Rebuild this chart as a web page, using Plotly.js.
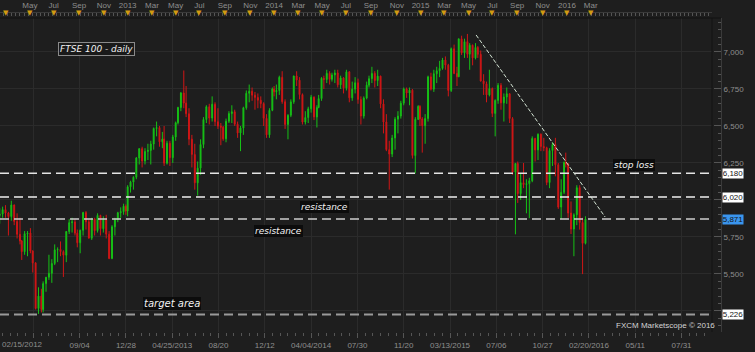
<!DOCTYPE html>
<html><head><meta charset="utf-8">
<script src="https://cdn.plot.ly/plotly-3.0.1.min.js"></script>
<style>html,body{margin:0;padding:0;background:#1e1e1e;overflow:hidden}#chart{width:755px;height:352px}</style>
</head><body><div id="chart"></div>
<script>
// ---- DATA (weekly OHLC of FTSE 100) ----
const firstWeek = '2012-02-13';
const wkOpen = [5895,5905,5935,5912,5888,5966,5855,5768,5723,5651,5772,5777,5655,5575,5267,5351,5260,5435,5478,5505,5571,5663,5666,5651,5627,5787,5847,5852,5776,5711,5795,5915,5853,5742,5871,5793,5896,5806,5868,5769,5605,5819,5867,5914,5921,5958,5926,
6089,6121,6154,6284,6347,6263,6328,6335,6378,6483,6489,6393,6412,6249,6384,6286,6426,6522,6625,6723,6655,6583,6411,6308,6116,6215,6375,6544,6630,6554,6647,6529,6499,6492,6413,6532,6584,6596,6512,6453,6487,6623,6721,6735,6708,6693,6674,6651,6552,6440,6606,6750,
6731,6740,6829,6664,6510,6572,6663,6838,6810,6712,6527,6557,6616,6695,6561,6625,6685,6822,6814,6856,6815,6845,6858,6778,6825,6757,6866,6690,6749,6792,6679,6567,6689,6776,6820,6855,6807,6837,6649,6527,6340,6310,6419,6546,6567,6654,6750,6723,6742,6300,6545,6633,
6548,6502,6550,6832,6749,6853,6873,6889,6946,6911,6740,7022,6855,6833,7089,6994,7070,6985,7046,6960,7031,6984,6804,6785,6710,6753,6585,6673,6775,6656,6696,6718,6550,6188,6247,6043,6117,6104,6110,6130,6416,6338,6444,6361,6353,6118,6334,6375,6238,5952,6052,6254,
6242,5912,5804,5900,6083,5848,5707];
const wkHigh = [5945,5955,5965,5920,5995,5970,5910,5880,5730,5790,5790,5810,5660,5580,5410,5400,5450,5480,5630,5600,5700,5680,5720,5660,5790,5870,5880,5870,5800,5800,5920,5925,5870,5880,5880,5910,5900,5890,5900,5790,5830,5880,5920,5950,5975,5970,6100,
6130,6160,6290,6350,6360,6350,6380,6400,6490,6530,6500,6460,6500,6400,6400,6440,6530,6630,6730,6875,6770,6620,6440,6380,6260,6410,6560,6640,6650,6700,6660,6620,6520,6500,6550,6600,6640,6610,6530,6500,6630,6740,6780,6760,6730,6720,6700,6660,6580,6620,6760,6770,
6780,6840,6870,6680,6580,6680,6840,6870,6830,6720,6600,6630,6710,6700,6640,6710,6830,6840,6880,6870,6860,6880,6880,6840,6830,6880,6870,6800,6830,6820,6700,6700,6800,6840,6900,6870,6880,6840,6680,6580,6400,6440,6560,6600,6670,6760,6760,6760,6750,6560,6640,6640,
6560,6580,6840,6860,6880,6900,6940,6960,6970,6920,7030,7050,6900,7090,7110,7090,7122,7060,7050,7060,7040,7010,6850,6800,6880,6760,6680,6790,6790,6720,6760,6720,6560,6250,6260,6180,6250,6140,6150,6430,6420,6450,6450,6420,6360,6350,6390,6420,6250,6140,6260,6320,
6250,5990,5910,6100,6100,5880,5890];
const wkLow = [5840,5880,5880,5760,5860,5830,5740,5700,5595,5630,5620,5640,5510,5260,5230,5240,5240,5380,5460,5440,5560,5580,5620,5480,5580,5770,5780,5760,5680,5640,5760,5800,5740,5730,5760,5780,5760,5780,5740,5600,5600,5760,5850,5880,5900,5900,5890,
6050,6070,6140,6240,6220,6240,6270,6240,6340,6430,6360,6350,6230,6240,6230,6250,6400,6510,6600,6620,6560,6370,6220,6070,6030,6170,6350,6520,6510,6530,6500,6480,6370,6400,6390,6520,6520,6500,6420,6330,6440,6610,6660,6670,6610,6620,6620,6500,6420,6420,6600,6700,
6680,6710,6650,6480,6410,6560,6650,6770,6680,6510,6510,6520,6590,6540,6490,6620,6670,6750,6790,6780,6800,6790,6760,6750,6720,6740,6660,6670,6720,6650,6510,6550,6680,6760,6790,6760,6770,6620,6450,6330,6070,6290,6340,6450,6550,6640,6690,6640,6280,6180,6540,6500,
6320,6380,6530,6740,6730,6790,6830,6880,6880,6700,6730,6850,6770,6830,6980,6960,6960,6880,6910,6950,6960,6800,6710,6660,6700,6560,6430,6650,6610,6530,6650,6520,6170,5768,5980,6000,6080,5910,5877,6120,6260,6270,6330,6330,6100,6080,6230,6160,5940,5872,6040,6220,
5880,5770,5620,5830,5800,5499,5700];
const wkClose = [5905,5935,5912,5888,5966,5855,5768,5723,5651,5772,5777,5655,5575,5267,5351,5260,5435,5478,5505,5571,5663,5666,5651,5627,5787,5847,5852,5776,5711,5795,5915,5853,5742,5871,5793,5896,5806,5868,5769,5605,5819,5867,5914,5921,5958,5926,6089,
6121,6154,6284,6347,6263,6328,6335,6378,6483,6489,6393,6412,6249,6384,6286,6426,6522,6625,6723,6655,6583,6411,6308,6116,6215,6375,6544,6630,6554,6647,6529,6499,6492,6413,6532,6584,6596,6512,6453,6487,6623,6721,6735,6708,6693,6674,6651,6552,6440,6606,6750,6731,
6740,6829,6664,6510,6572,6663,6838,6810,6712,6527,6557,6616,6695,6561,6625,6685,6822,6814,6856,6815,6845,6858,6778,6825,6757,6866,6690,6749,6792,6679,6567,6689,6776,6820,6855,6807,6837,6649,6527,6340,6310,6419,6546,6567,6654,6750,6723,6742,6300,6545,6633,6548,
6502,6550,6832,6749,6853,6873,6889,6946,6911,6740,7022,6855,6833,7089,6994,7070,6985,7046,6960,7031,6984,6804,6785,6710,6753,6585,6673,6775,6656,6696,6718,6550,6188,6247,6043,6117,6104,6110,6130,6416,6338,6444,6361,6353,6118,6334,6375,6238,5952,6052,6254,6242,
5912,5804,5900,6083,5848,5707,5871];

const levelValues = [6180, 6020, 5871, 5226];
const levelLabels = ['6,180', '6,020', '5,871', '5,226'];
const trendDates  = ['2015-05-21', '2016-04-07'];
const trendValues = [7115, 5885];

const monthStarts = ['2012-03-01','2012-05-01','2012-07-01','2012-09-01','2012-11-01','2013-01-01','2013-03-01','2013-05-01','2013-07-01','2013-09-01','2013-11-01','2014-01-01','2014-03-01','2014-05-01','2014-07-01','2014-09-01','2014-11-01','2015-01-01','2015-03-01','2015-05-01','2015-07-01','2015-09-01','2015-11-01','2016-01-01','2016-03-01'];
const monthLabels = ['','May','Jul','Sep','Nov','2013','Mar','May','Jul','Sep','Nov','2014','Mar','May','Jul','Sep','Nov','2015','Mar','May','Jul','Sep','Nov','2016','Mar'];
const bottomTickLabels = ['','09/04','12/28','04/25/2013','08/20','12/12','04/04/2014','07/30','11/20','03/13/2015','07/06','10/27','02/20/2016','05/11','07/31'];
const yTicks = [5250,5500,5750,6000,6250,6500,6750,7000];
// 5,250 and 6,000 are covered by the price boxes in the reference
const yTickText = ['','5,500','5,750','','6,250','6,500','6,750','7,000'];

const ukHolidays = ['2012-04-06','2012-04-09','2012-05-07','2012-06-04','2012-06-05','2012-08-27','2012-12-25','2012-12-26',
'2013-01-01','2013-03-29','2013-04-01','2013-05-06','2013-05-27','2013-08-26','2013-12-25','2013-12-26',
'2014-01-01','2014-04-18','2014-04-21','2014-05-05','2014-05-26','2014-08-25','2014-12-25','2014-12-26',
'2015-01-01','2015-04-03','2015-04-06','2015-05-04','2015-05-25','2015-08-31','2015-12-25','2015-12-28',
'2016-01-01','2016-03-25','2016-03-28','2016-05-02','2016-05-30'];

// ---- trading-day axis (bar index since 02/15/2012) ----
const hol = new Set(ukHolidays);
const tMap = {};
(function(){
  let n = 0;
  const d = new Date(Date.UTC(2012,1,15));
  const end = new Date(Date.UTC(2016,11,31));
  while (d <= end) {
    const k = d.toISOString().slice(0,10);
    tMap[k] = n;
    const wd = d.getUTCDay();
    if (wd !== 0 && wd !== 6 && !hol.has(k)) n++;
    d.setUTCDate(d.getUTCDate()+1);
  }
})();
function tIndex(s){ return tMap[s]; }
function addDays(s, k){ const d = new Date(s+'T00:00:00Z'); d.setUTCDate(d.getUTCDate()+k); return d.toISOString().slice(0,10); }

const weekX = wkClose.map((_, i) => tIndex(addDays(firstWeek, 7*i + 2)));
const monthX = monthStarts.map(tIndex);
const bottomTickX = bottomTickLabels.map((_, i) => 58 + 80*i);
const trendX = trendDates.map(tIndex);

// ---- layout geometry ----
const PW = 721, PH = 332;
const XEND = 712/PW;
const xRange = [0.47, 1230.6];
const yRange = [5108, 7229.7];
const px = x => x/PW, py = y => (PH - y)/PH;

const grid = '#2b2b2b', tickc = '#555555', lab = '#8e8e8e';

const traces = [{
  type: 'candlestick', x: weekX, open: wkOpen, high: wkHigh, low: wkLow, close: wkClose,
  xaxis: 'x', yaxis: 'y', whiskerwidth: 0, hoverinfo: 'skip',
  increasing: {line: {color: '#16c016', width: 1}, fillcolor: '#16c016'},
  decreasing: {line: {color: '#d01616', width: 1}, fillcolor: '#d01616'}
}, {
  type: 'scatter', x: [], y: [], xaxis: 'x2', yaxis: 'y', hoverinfo: 'skip', showlegend: false
}];

const shapes = [];
const levelColors = ['#e4e4e4', '#efefef', '#cdcdcd', '#9a9a9a'];
const levelWidths = [1.5, 1.5, 1.5, 2];
levelValues.forEach((v, i) => shapes.push({type: 'line', xref: 'paper', yref: 'y', x0: 0, x1: XEND, y0: v, y1: v,
  line: {color: levelColors[i], width: levelWidths[i], dash: '9px,5px'}}));
shapes.push({type: 'line', xref: 'x', yref: 'y', x0: trendX[0], x1: trendX[1], y0: trendValues[0], y1: trendValues[1],
  line: {color: '#d6e6d6', width: 1, dash: '4px,2px'}});
shapes.push({type: 'line', xref: 'paper', yref: 'paper', x0: 0, x1: 1, y0: py(18), y1: py(18), line: {color: '#111111', width: 1}});
shapes.push({type: 'line', xref: 'paper', yref: 'paper', x0: XEND, x1: XEND, y0: py(332), y1: py(18), line: {color: '#131313', width: 1}});

const ann = [];
const boxBg = ['#ffffff', '#ffffff', '#3a95ee', '#ffffff'];
levelValues.forEach((v, i) => ann.push({xref: 'paper', yref: 'y', x: px(721.8), y: v, xanchor: 'left', yanchor: 'middle',
  text: levelLabels[i], showarrow: false, bgcolor: boxBg[i], borderpad: 0, width: 20, height: 9,
  font: {family: 'Liberation Sans', size: 8, color: '#151515'}}));
monthX.forEach(x => ann.push({xref: 'x', yref: 'paper', x: x, y: py(13.2), xanchor: 'center', yanchor: 'middle',
  text: '▼', showarrow: false, font: {family: 'DejaVu Sans', size: 7, color: '#d19c12'}}));
const lblFont = {family: 'DejaVu Sans', size: 9, color: '#f2f2f2', style: 'italic'};
const labels = [
  {t: 'FTSE 100 - daily', x: 96.5, y: 49.5, border: true},
  {t: 'resistance', x: 324.7, y: 207},
  {t: 'resistance', x: 278.3, y: 230.8},
  {t: 'stop loss', x: 634, y: 164.5},
  {t: 'target area', x: 172, y: 303, size: 10}
];
labels.forEach(l => ann.push({xref: 'paper', yref: 'paper', x: px(l.x), y: py(l.y), xanchor: 'center', yanchor: 'middle',
  text: l.t, showarrow: false, bgcolor: l.border ? '#1a1a1a' : '#0c0c0c', bordercolor: l.border ? '#8a8a8a' : 'rgba(0,0,0,0)',
  borderwidth: l.border ? 1 : 0, borderpad: 1,
  font: Object.assign({}, lblFont, l.size ? {size: l.size} : {})}));
ann.push({xref: 'paper', yref: 'paper', x: px(665.5), y: py(325.5), xanchor: 'center', yanchor: 'middle', showarrow: false,
  text: 'FXCM Marketscope © 2016', font: {family: 'Liberation Sans', size: 8, color: '#d4d4d4'}});
ann.push({xref: 'paper', yref: 'paper', x: 0, y: py(344), xanchor: 'left', yanchor: 'middle', showarrow: false,
  text: '02/15/2012', font: {family: 'Liberation Sans', size: 8, color: lab}});

const layout = {
  width: 755, height: 352, margin: {l: 0, r: 34, t: 0, b: 20, pad: 0},
  paper_bgcolor: '#1e1e1e', plot_bgcolor: '#1e1e1e',
  font: {family: 'Liberation Sans', size: 8, color: lab},
  showlegend: false, boxgap: 0.25,
  xaxis: {domain: [0, XEND], range: xRange, anchor: 'y', fixedrange: true,
    rangeslider: {visible: false}, tickmode: 'array', tickvals: bottomTickX, ticktext: bottomTickLabels,
    showgrid: true, gridcolor: grid, gridwidth: 1, zeroline: false, showline: false,
    ticks: 'outside', ticklen: 5, tickcolor: tickc, tickfont: {size: 8, color: lab},
    minor: {tickmode: 'linear', tick0: 58, dtick: 80/6, ticks: 'outside', ticklen: 3, tickcolor: tickc, showgrid: false}},
  xaxis2: {overlaying: 'x', side: 'top', anchor: 'free', position: py(11.5), domain: [0, XEND], range: xRange,
    fixedrange: true, tickmode: 'array', tickvals: monthX, ticktext: monthLabels, ticks: '', showgrid: false,
    zeroline: false, showline: true, linecolor: '#3a3a3a', tickfont: {size: 8, color: lab},
    minor: {tickmode: 'linear', tick0: 0, dtick: 7, ticks: 'inside', ticklen: 3, tickcolor: tickc, showgrid: false}},
  yaxis: {domain: [0, py(18)], range: yRange, side: 'right', anchor: 'free', position: 1, fixedrange: true,
    tickmode: 'array', tickvals: yTicks, ticktext: yTickText, showgrid: true, gridcolor: grid, zeroline: false,
    showline: true, linecolor: '#3a3a3a', ticks: 'inside', ticklen: 7, tickcolor: tickc, tickfont: {size: 8, color: lab},
    minor: {tickmode: 'linear', tick0: 5000, dtick: 50, ticks: 'inside', ticklen: 3, tickcolor: tickc, showgrid: false}},
  shapes: shapes, annotations: ann
};

Plotly.newPlot('chart', traces, layout, {displayModeBar: false, staticPlot: true});
</script>
</body></html>
